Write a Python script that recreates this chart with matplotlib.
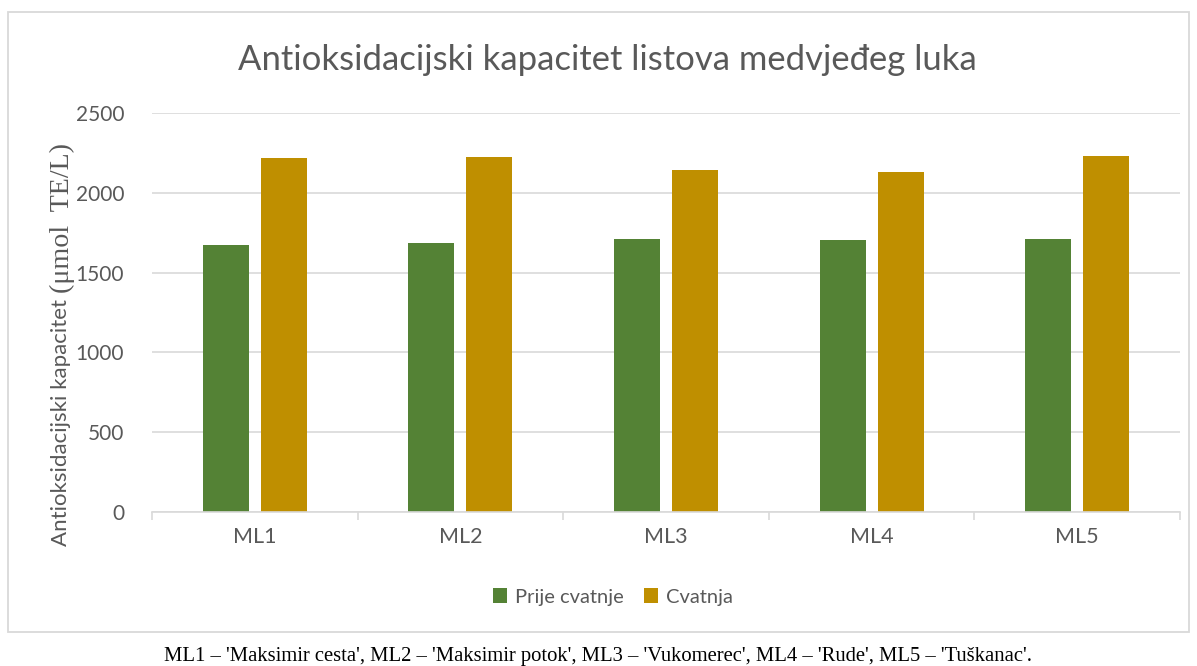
import matplotlib
matplotlib.use("Agg")
import matplotlib.pyplot as plt
from matplotlib.patches import Rectangle
import numpy as np

categories = ["ML1", "ML2", "ML3", "ML4", "ML5"]
prije = [1671, 1684, 1711, 1707, 1711]
cvatnja = [2216, 2222, 2142, 2128, 2230]
series_names = ["Prije cvatnje", "Cvatnja"]
yticks = [0, 500, 1000, 1500, 2000, 2500]
title = "Antioksidacijski kapacitet listova medvjeđeg luka"
ylabel_sans = "Antioksidacijski kapacitet "
ylabel_serif = "(μmol  TE/L)"
caption = "ML1 – 'Maksimir cesta', ML2 – 'Maksimir potok', ML3 – 'Vukomerec', ML4 – 'Rude', ML5 – 'Tuškanac'."

W, H = 1197, 666
fig = plt.figure(figsize=(W / 100, H / 100), dpi=100)
txt = "#595959"
sans = "Lato"

# outer chart border
fig.patches.append(Rectangle((8 / W, 1 - 632 / H), (1189 - 8) / W, (632 - 12) / H,
                             transform=fig.transFigure, fill=False,
                             edgecolor="#D9D9D9", linewidth=1.3))

ax = fig.add_axes([152 / W, 1 - 512 / H, (1180 - 152) / W, (512 - 113) / H])
x = np.arange(len(categories))
w = 0.224
off = 0.141
ax.bar(x - off, prije, w, color="#548235", label=series_names[0], zorder=3)
ax.bar(x + off, cvatnja, w, color="#BF8F00", label=series_names[1], zorder=3)

ax.set_xlim(-0.5, len(categories) - 0.5)
ax.set_ylim(0, 2500)
ax.set_yticks(yticks)
ax.set_yticklabels([str(v) for v in yticks], fontfamily=sans, fontsize=15, color=txt)
ax.set_xticks(x)
ax.set_xticklabels(categories, fontfamily=sans, fontsize=15.5, color=txt)
ax.set_xticks(np.arange(-0.5, len(categories)), minor=True)
ax.tick_params(axis="x", which="major", length=0, pad=11)
ax.tick_params(axis="x", which="minor", length=6, color="#D9D9D9", width=1.2)
ax.tick_params(axis="y", length=0, pad=20)
ax.grid(axis="y", color="#D9D9D9", linewidth=1.2, zorder=0)
for s in ["top", "right", "left"]:
    ax.spines[s].set_visible(False)
ax.spines["bottom"].set_color("#D9D9D9")
ax.spines["bottom"].set_linewidth(1.2)
ax.spines["bottom"].set_zorder(4)

fig.text(607 / W, 1 - 60 / H, title, ha="center", va="center",
         fontfamily=sans, fontsize=24.9, color=txt)

# y label: sans part + serif part
t1 = fig.text(61 / W, 1 - 546 / H, ylabel_sans, rotation=90, ha="center", va="bottom",
              fontfamily=sans, fontsize=16, color=txt)
fig.canvas.draw()
bb = t1.get_window_extent()
fig.text(62 / W, bb.y1 / H, ylabel_serif, rotation=90, ha="center", va="bottom",
         fontfamily="Liberation Serif", fontsize=20.2, color=txt)

leg = fig.legend(loc="center", bbox_to_anchor=(613 / W, 1 - 597 / H), ncol=2,
                 frameon=False, prop={"family": sans, "size": 14.5},
                 handlelength=0.7, handleheight=0.7, handletextpad=0.4, columnspacing=1.0)
for t in leg.get_texts():
    t.set_color(txt)

fig.text(598 / W, 1 - 657 / H, caption, ha="center", va="center",
         fontfamily="Liberation Serif", fontsize=14.9, color="black")

fig.savefig("out.png", dpi=100)
